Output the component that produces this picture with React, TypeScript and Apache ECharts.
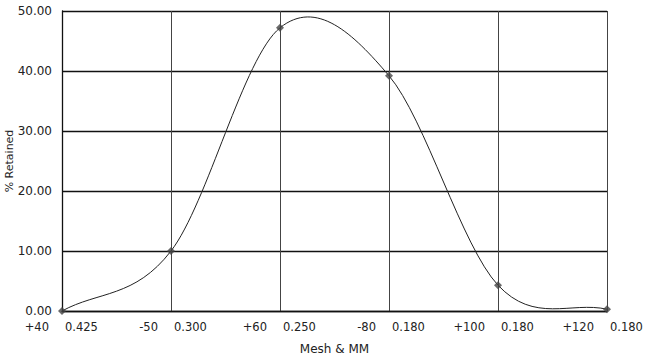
import React, { useEffect, useRef } from "react";
import * as echarts from "echarts";

const meshLabels = ["+40", "-50", "+60", "-80", "+100", "+120"];
const mmLabels = ["0.425", "0.300", "0.250", "0.180", "0.180", "0.180"];
const retained = [0.0, 10.0, 47.2, 39.2, 4.3, 0.3];
const yTicks = { min: 0, max: 50, interval: 10 };

export default function App() {
  const ref = useRef<HTMLDivElement>(null);
  useEffect(() => {
    if (!ref.current) return;
    const chart = echarts.init(ref.current, undefined, { renderer: "svg" });
    const n = retained.length;
    const labelFont = { color: "#222", fontSize: 11.5, fontFamily: "DejaVu Sans" };
    chart.setOption({
      animation: false,
      backgroundColor: "#ffffff",
      textStyle: { fontFamily: "DejaVu Sans" },
      grid: { left: 62, right: 41, top: 11, bottom: 48, outerBoundsMode: "none", containLabel: false },
      xAxis: [
        {
          type: "category",
          data: meshLabels,
          boundaryGap: false,
          name: "Mesh & MM",
          nameLocation: "middle",
          nameGap: 32,
          nameMoveOverlap: false,
          nameTextStyle: { fontSize: 12, color: "#222", fontFamily: "DejaVu Sans" },
          axisLine: { lineStyle: { color: "#111", width: 1.3 } },
          axisTick: { show: false },
          axisLabel: {
            ...labelFont,
            interval: 0,
            margin: 10,
            align: "right",
            padding: [0, 13, 0, 0],
            hideOverlap: false,
          },
          splitLine: { show: true, lineStyle: { color: "#444", width: 1 } },
        },
        {
          type: "category",
          data: mmLabels.map((m, i) => ({ value: i + ":" + m })),
          boundaryGap: false,
          position: "bottom",
          axisLine: { show: false },
          axisTick: { show: false },
          axisLabel: {
            ...labelFont,
            interval: 0,
            margin: 10,
            align: "left",
            padding: [0, 0, 0, 3],
            hideOverlap: false,
            formatter: (v: string) => v.split(":")[1],
          },
          splitLine: { show: false },
        },
      ],
      yAxis: {
        type: "value",
        min: yTicks.min,
        max: yTicks.max,
        interval: yTicks.interval,
        name: "% Retained",
        nameLocation: "middle",
        nameGap: 47,
        nameMoveOverlap: false,
        nameTextStyle: { fontSize: 11, color: "#222", fontFamily: "DejaVu Sans" },
        axisLine: { show: true, lineStyle: { color: "#111", width: 1.3 } },
        axisTick: { show: false },
        axisLabel: {
          color: "#222",
          fontSize: 12,
          margin: 10,
          fontFamily: "DejaVu Sans",
          formatter: (v: number) => v.toFixed(2),
        },
        splitLine: { show: true, lineStyle: { color: "#111", width: 1.3 } },
      },
      series: [
        {
          type: "custom",
          xAxisIndex: 0,
          data: retained.map((v, i) => [i, v]),
          encode: { x: 0, y: 1 },
          clip: false,
          z: 2,
          renderItem: (params: any, api: any) => {
            const i = params.dataIndex;
            if (i >= n - 1) return null;
            const P = (k: number) => api.coord([k, retained[k]]);
            const p0 = P(i);
            const p1 = P(i + 1);
            const t0 =
              i > 0
                ? [(p1[0] - P(i - 1)[0]) / 2, (p1[1] - P(i - 1)[1]) / 2]
                : [p1[0] - p0[0], p1[1] - p0[1]];
            const t1 =
              i + 2 < n
                ? [(P(i + 2)[0] - p0[0]) / 2, (P(i + 2)[1] - p0[1]) / 2]
                : [p1[0] - p0[0], p1[1] - p0[1]];
            return {
              type: "bezierCurve",
              shape: {
                x1: p0[0],
                y1: p0[1],
                x2: p1[0],
                y2: p1[1],
                cpx1: p0[0] + t0[0] / 3,
                cpy1: p0[1] + t0[1] / 3,
                cpx2: p1[0] - t1[0] / 3,
                cpy2: p1[1] - t1[1] / 3,
              },
              style: { stroke: "#222", lineWidth: 1, fill: "none" },
            };
          },
        },
        {
          type: "scatter",
          xAxisIndex: 0,
          data: retained,
          symbol: "diamond",
          symbolSize: 8,
          z: 3,
          itemStyle: { color: "#444" },
        },
      ],
    });
    return () => chart.dispose();
  }, []);
  return (
    <div
      ref={ref}
      style={{ position: "fixed", left: 0, top: 0, width: 648, height: 359, background: "#fff" }}
    />
  );
}
